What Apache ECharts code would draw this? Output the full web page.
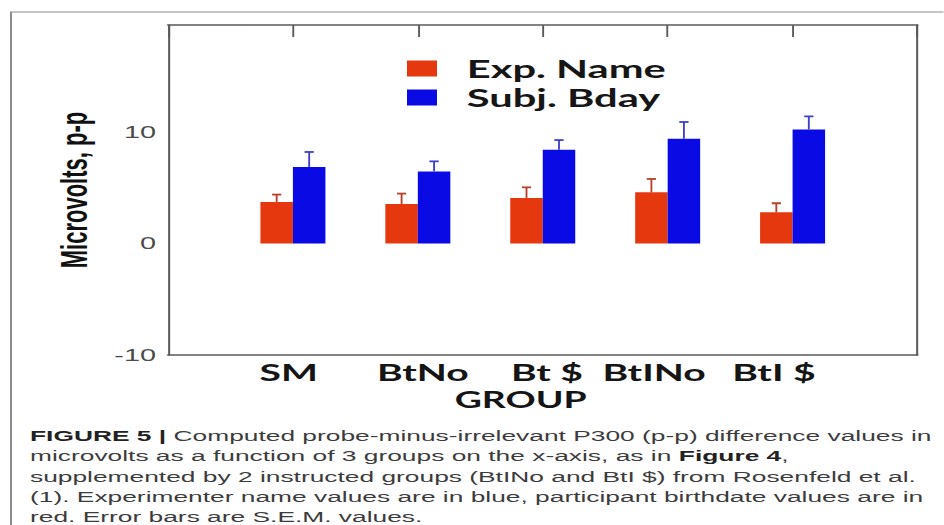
<!DOCTYPE html>
<html>
<head>
<meta charset="utf-8">
<script src="https://cdn.jsdelivr.net/npm/echarts@6/dist/echarts.min.js"></script>
<style>
  html, body { margin: 0; padding: 0; background: #ffffff; overflow: hidden; }
  #wrap { width: 944px; height: 525px; overflow: hidden; position: relative; }
  #chart { height: 525px; transform-origin: 0 0; }
</style>
</head>
<body>
<div id="wrap"><div id="chart"></div></div>
<script>
// The figure is laid out on a narrower canvas and widened horizontally.
const SX = 1.7;

// Data: P300 probe-minus-irrelevant differences (microvolts) with S.E.M.
const groups = ['SM', 'BtNo', 'Bt $', 'BtINo', 'BtI $'];
const expName = [3.73, 3.55, 4.09, 4.59, 2.80];
const expNameSem = [0.66, 0.93, 0.95, 1.20, 0.81];
const subjBday = [6.87, 6.47, 8.42, 9.40, 10.23];
const subjBdaySem = [1.34, 0.90, 0.86, 1.50, 1.17];
const yTicks = [-10, 0, 10];
const yMin = -10, yMax = 19.6;

const seriesNames = ['Exp. Name', 'Subj. Bday'];
const barColors = ['#e5380f', '#0a0ae4'];
const errColors = ['#b8402c', '#3f3fc8'];

// label nudges per group (base px, negative = left)
const labelShift = [-2.5, 3, 2.5, -8, -11];

// figure caption, one entry per printed line
const captionLines = [
  '{b|FIGURE 5 |} Computed probe-minus-irrelevant P300 (p-p) difference values in',
  'microvolts as a function of 3 groups on the x-axis, as in {b|Figure 4},',
  'supplemented by 2 instructed groups (BtINo and BtI $) from Rosenfeld et al.',
  '(1). Experimenter name values are in blue, participant birthdate values are in',
  'red. Error bars are S.E.M. values.'
];

const chartEl = document.getElementById('chart');
chartEl.style.width = (944 / SX) + 'px';
chartEl.style.transform = 'scaleX(' + SX + ')';

// one empty slot on each side of the groups keeps the outer margins
const xCats = [''].concat(groups).concat(['']).map(function (g, i) {
  if (i === 0 || i === groups.length + 1) return { value: g };
  const d = labelShift[i - 1];
  return {
    value: g,
    textStyle: { padding: d < 0 ? [0, -2 * d, 0, 0] : [0, 0, 0, 2 * d] }
  };
});
function padded(arr) { return ['-'].concat(arr).concat(['-']); }

const barW = 32.5 / SX;

function errorData(vals, sems) {
  return vals.map(function (v, i) { return [i + 1, v, sems[i]]; });
}

function makeErrorRenderer(side, color) {
  return function (params, api) {
    const idx = api.value(0);
    const v = api.value(1);
    const s = api.value(2);
    const p0 = api.coord([idx, v]);
    const p1 = api.coord([idx, v + s]);
    const x = p0[0] + side * barW / 2;
    const cap = 4.6 / SX;
    return {
      type: 'group',
      children: [
        { type: 'line', shape: { x1: x, y1: p0[1], x2: x, y2: p1[1] },
          style: { stroke: color, lineWidth: 1.1 } },
        { type: 'line', shape: { x1: x - cap, y1: p1[1], x2: x + cap, y2: p1[1] },
          style: { stroke: color, lineWidth: 1.8 } }
      ]
    };
  };
}

const captionFont = {
  fontFamily: 'Liberation Sans', fontSize: 15.5, lineHeight: 15.5, fill: '#3c3c3c',
  rich: {
    b: { fontFamily: 'Liberation Sans', fontWeight: 'bold', fontSize: 15.5, lineHeight: 15.5, fill: '#222222' }
  }
};
const captionGraphics = captionLines.map(function (line, i) {
  return {
    type: 'text', x: 30 / SX, y: 435.5 + i * 20.4, silent: true,
    style: Object.assign({ text: line, verticalAlign: 'middle' }, captionFont)
  };
});

const axisGray = '#5a5a5a';
const chart = echarts.init(chartEl, null, { renderer: 'svg' });

chart.setOption({
  animation: false,
  backgroundColor: '#ffffff',
  grid: {
    left: 168 / SX, right: (944 - 918) / SX, top: 25, bottom: 170,
    outerBoundsMode: 'none'
  },
  legend: {
    data: seriesNames,
    orient: 'vertical',
    left: 407 / SX, top: 56, padding: 0,
    itemWidth: 30 / SX, itemHeight: 16, itemGap: 4,
    icon: 'rect',
    textStyle: {
      fontFamily: 'Lato', fontWeight: 'bold', fontSize: 24.5, color: '#161616',
      padding: [0, 0, 0, 12.5]
    }
  },
  xAxis: [
    {
      type: 'category', data: xCats, boundaryGap: false, position: 'bottom',
      axisLine: { onZero: false, lineStyle: { color: axisGray, width: 1.5 } },
      axisTick: { show: false },
      axisLabel: {
        interval: 0, margin: 6,
        fontFamily: 'Lato', fontWeight: 'bold', fontSize: 23, color: '#151515'
      },
      name: 'GROUP', nameLocation: 'middle', nameGap: 27,
      nameTextStyle: {
        fontFamily: 'Lato', fontWeight: 'bold', fontSize: 22, color: '#151515',
        padding: [0, 26, 0, 0]
      }
    },
    {
      type: 'category', data: xCats, boundaryGap: false, position: 'top',
      axisLine: { onZero: false, lineStyle: { color: axisGray, width: 1.5 } },
      axisTick: { inside: true, length: 12, lineStyle: { color: axisGray, width: 1.1 } },
      axisLabel: { show: false }
    }
  ],
  yAxis: [
    {
      type: 'value', min: yMin, max: yMax, interval: 10, position: 'left',
      splitLine: { show: false },
      axisLine: { show: true, onZero: false, lineStyle: { color: axisGray, width: 1.2 } },
      axisTick: { inside: true, length: 22 / SX, lineStyle: { color: axisGray, width: 1.3 } },
      axisLabel: {
        margin: 7, showMaxLabel: false,
        fontFamily: 'Liberation Sans', fontSize: 17, color: '#4a4a4a',
        formatter: function (v) { return yTicks.indexOf(v) >= 0 ? String(v) : ''; }
      },
      name: 'Microvolts, p-p', nameLocation: 'middle', nameGap: 44, nameRotate: 90,
      nameTextStyle: {
        fontFamily: 'Liberation Sans', fontWeight: 'bold', fontSize: 22, color: '#111111'
      }
    },
    {
      type: 'value', min: yMin, max: yMax, interval: 10, position: 'right',
      splitLine: { show: false },
      axisLine: { show: true, onZero: false, lineStyle: { color: axisGray, width: 1.2 } },
      axisTick: { inside: true, length: 23 / SX, lineStyle: { color: axisGray, width: 1.3 } },
      axisLabel: { show: false }
    }
  ],
  series: [
    {
      name: seriesNames[0], type: 'bar', data: padded(expName),
      barWidth: barW, barGap: '0%', itemStyle: { color: barColors[0] }, z: 2
    },
    {
      name: seriesNames[1], type: 'bar', data: padded(subjBday),
      barWidth: barW, barGap: '0%', itemStyle: { color: barColors[1] }, z: 2
    },
    {
      type: 'custom', data: errorData(expName, expNameSem),
      encode: { x: 0, y: 1 }, renderItem: makeErrorRenderer(-1, errColors[0]), z: 3
    },
    {
      type: 'custom', data: errorData(subjBday, subjBdaySem),
      encode: { x: 0, y: 1 }, renderItem: makeErrorRenderer(1, errColors[1]), z: 3
    }
  ],
  graphic: [
    {
      type: 'polyline', silent: true,
      shape: { points: [[11 / SX, 530], [11 / SX, 12], [944 / SX + 5, 12]] },
      style: { stroke: '#8c8c8c', lineWidth: 1.2, fill: null }
    }
  ].concat(captionGraphics)
});
</script>
</body>
</html>
